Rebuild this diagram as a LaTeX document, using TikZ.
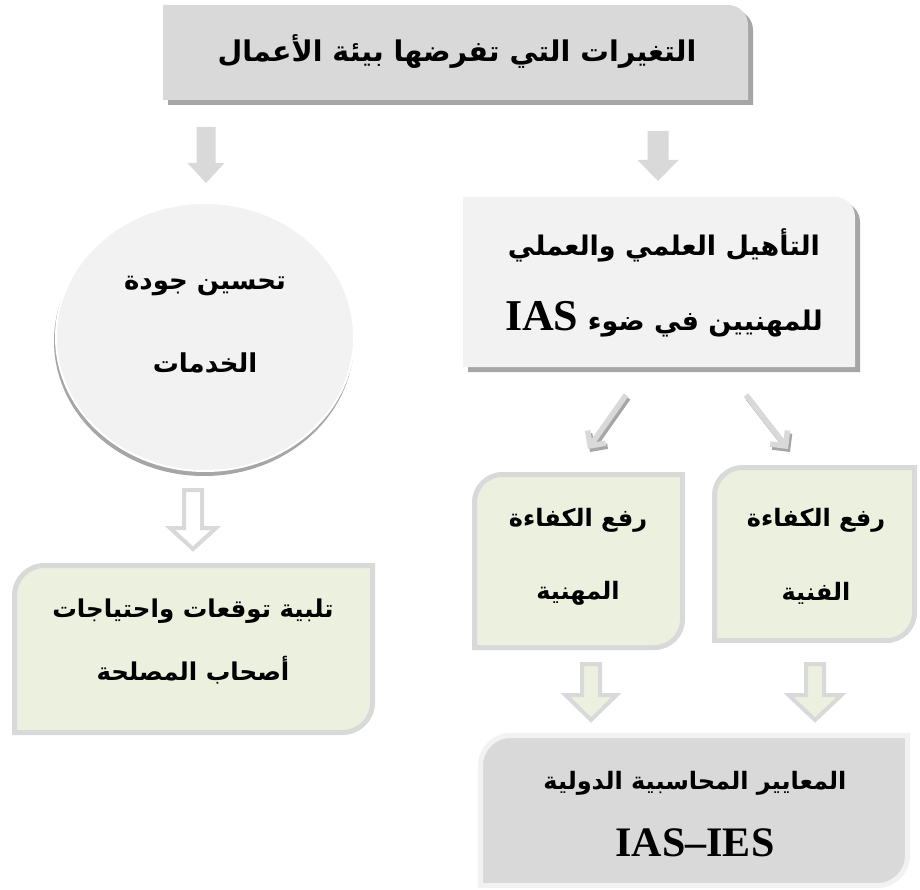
\documentclass[tikz,border=0pt]{standalone}
\usepackage{fontspec}
\usetikzlibrary{arrows.meta}
\TeXXeTstate=1
\newfontfamily\arabicfont[Script=Arabic]{DejaVu Sans}
\newfontfamily\latinfont{Liberation Serif}
\newcommand\rl[1]{\beginR#1\endR}
\newcommand\lat[2]{\beginL{\latinfont\bfseries\fontsize{#1}{#1}\selectfont #2}\endL}
% box with rounded top-right corner: x1,y1,x2,y2,r
\newcommand\trbox[5]{(#1,#2) -- (#3-#5,#2) arc[start angle=270,end angle=360,radius=#5] -- (#3,#4) -- (#1,#4) -- cycle}
% box with rounded top-left and bottom-right corners: x1,y1,x2,y2,r
\newcommand\diagbox[5]{(#1,#2+#5) arc[start angle=180,end angle=270,radius=#5] -- (#3,#2) -- (#3,#4-#5) arc[start angle=0,end angle=90,radius=#5] -- (#1,#4) -- cycle}
% block arrow pointing down: cx, ytop, ytip, shaft width, head base y, head width
\newcommand\downblock[6]{(#1-#4/2,#2) -- (#1+#4/2,#2) -- (#1+#4/2,#5) -- (#1+#6/2,#5) -- (#1,#3) -- (#1-#6/2,#5) -- (#1-#4/2,#5) -- cycle}
\definecolor{greyA}{HTML}{D9D9D9}
\definecolor{greyB}{HTML}{F2F2F2}
\definecolor{greyS}{HTML}{A6A6A6}
\definecolor{greenA}{HTML}{EBF1DE}
\begin{document}
\begin{tikzpicture}[x=1pt,y=-1pt,
  txt/.style={align=center,inner sep=0pt,text=black},
  greenbox/.style={fill=greenA,draw=greyA,line width=5pt},
  hollowarrow/.style={draw=greyA,line width=4pt,line join=miter},
  diagarrow/.style={line width=5.5pt,line cap=butt,
    -{Straight Barb[length=11pt,width=22pt,line width=5.5pt,line join=miter,line cap=butt]}},
]
\useasboundingbox[fill=white] (0,0) rectangle (920,890);

% top box
\fill[greyS] \trbox{168}{10}{753}{105}{20};
\fill[greyA] \trbox{163}{5}{748}{100}{20};
\node[txt,font=\arabicfont\bfseries\fontsize{28.5}{28.5}\selectfont] (env) at (457,52) {\rl{التغيرات التي تفرضها بيئة الأعمال}};

% down arrows from the top box
\fill[greyA] \downblock{206}{127}{183}{19}{163}{37};
\fill[greyA] \downblock{658}{131}{181}{21}{160}{41};

% qualification box
\fill[greyS] \trbox{468}{202}{860}{372}{20};
\fill[greyB] \trbox{463}{197}{855}{367}{20};
\node[txt,font=\arabicfont\bfseries\fontsize{27}{75}\selectfont] (qual) at (664,283)
  {\rl{التأهيل العلمي والعملي}\\ \rl{للمهنيين في ضوء \lat{44}{IAS}}};

% service quality circle
\fill[greyS] (204,341) ellipse[x radius=150,y radius=135];
\filldraw[fill=greyB,draw=white,line width=2pt] (205,337) ellipse[x radius=149,y radius=134];
\node[txt,font=\arabicfont\bfseries\fontsize{26}{83}\selectfont] (serv) at (205,325)
  {\rl{تحسين جودة}\\ \rl{الخدمات}};

% hollow arrow under the circle
\filldraw[hollowarrow,fill=white] \downblock{193}{490}{549}{18}{528}{46};

% stakeholders box
\path[greenbox] \diagbox{14.5}{565.5}{372.5}{732.5}{30};
\node[txt,font=\arabicfont\bfseries\fontsize{24.5}{63}\selectfont] (stake) at (193,642)
  {\rl{تلبية توقعات واحتياجات}\\ \rl{أصحاب المصلحة}};

% diagonal arrows with their shadows
\draw[diagarrow,greyS] (628,398) -- (590,452);
\draw[diagarrow,greyA] (626,395) -- (588,449);
\draw[diagarrow,greyS] (748,398) -- (790,452);
\draw[diagarrow,greyA] (746,395) -- (788,449);

% competence boxes
\path[greenbox] \diagbox{474.5}{474.5}{682.5}{647.5}{28};
\node[txt,font=\arabicfont\bfseries\fontsize{24}{73}\selectfont] (prof) at (578,557)
  {\rl{رفع الكفاءة}\\ \rl{المهنية}};
\path[greenbox] \diagbox{714.5}{467.5}{914.5}{640.5}{28};
\node[txt,font=\arabicfont\bfseries\fontsize{24}{74}\selectfont] (tech) at (816,556)
  {\rl{رفع الكفاءة}\\ \rl{الفنية}};

% green hollow arrows
\filldraw[hollowarrow,fill=greenA] \downblock{591}{664}{720}{18}{695}{51};
\filldraw[hollowarrow,fill=greenA] \downblock{815}{664}{720}{18}{695}{53};

% standards box
\path[fill=greyA,draw=greyB,line width=5pt] \diagbox{480.5}{735.5}{907.5}{885.5}{30};
\node[txt,font=\arabicfont\bfseries\fontsize{24}{67}\selectfont] (std) at (695,814)
  {\rl{المعايير المحاسبية الدولية}\\ \lat{42}{IAS–IES}};
\end{tikzpicture}
\end{document}
